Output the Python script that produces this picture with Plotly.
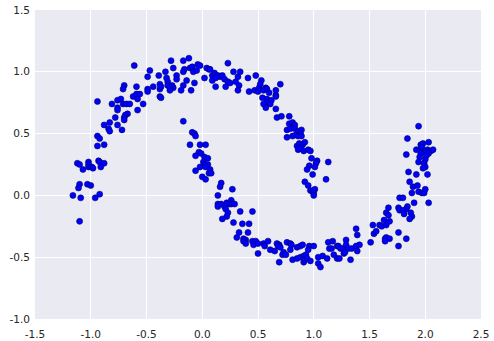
import plotly.graph_objects as go

# Points (x, y)
x_vals = [
    -0.61, -0.47, -0.49, -0.39, -0.70, -0.71, -0.59, -0.44, -0.49, -0.49,
    -0.38, -0.38, -0.62, -0.59, -0.56, -0.58, -0.38, -0.94, -0.76, -0.73,
    -0.81, -0.71, -0.68, -0.65, -0.76, -0.76, -0.53, -0.58, -0.67, -0.69,
    -0.70, -0.70, -0.78, -0.83, -0.88, -0.76, -0.84, -0.83, -0.72, -0.94,
    -0.92,
    -0.28, -0.17, -0.12, -0.26, -0.33, -0.32, -0.23, -0.23, -0.16, -0.17,
    -0.11, -0.09, -0.08, -0.05, -0.04, -0.02, 0.04, 0.06, 0.07, 0.02,
    0.23, -0.14, -0.07, -0.31, -0.31, -0.27, -0.26, -0.29, -0.37, -0.37,
    -0.17, -0.19, -0.29, -0.10, 0.09, 0.11, 0.14, 0.16, 0.18, 0.20,
    0.09, 0.12, 0.12, 0.21, 0.23, 0.25, 0.28, 0.34, 0.32, 0.30,
    0.33, 0.32, 0.41, 0.42, 0.48, 0.47, 0.50, 0.51, -0.17, -0.09,
    -0.07, -0.06,
    0.53, 0.52, 0.57, 0.55, 0.58, 0.60, 0.70, 0.66, 0.66, 0.66,
    0.54, 0.58, 0.58, 0.62, 0.61, 0.55, 0.57, 0.66, 0.67, 0.71,
    0.78, 0.78, 0.81, 0.83, 0.76, 0.79, 0.83, 0.86, 0.89, 0.88,
    0.81, 0.84, 0.86, 0.89, 0.76,
    1.94, 1.84,
    -0.94, -0.88, -1.12, -1.10, -1.07, -1.02, -1.02, -1.02, -0.99, -0.98,
    -0.93, -0.92, -0.88, -0.91, -1.10, -1.11, -1.03, -1.00, -1.16, -1.09,
    -0.92, -0.96, -1.10,
    -0.11, -0.02, 0.03, -0.03, -0.01, -0.06, 0.02, 0.05, 0.01, 0.02,
    -0.02, 0.05, 0.03, 0.07, 0.06, 0.08, -0.06, 0.00, 0.03, 0.17,
    0.16, 0.27, 0.14, 0.14, 0.14, 0.17, 0.22, 0.24, 0.26, 0.26,
    0.29, 0.20, 0.21, 0.23, 0.22, 0.18, 0.34, 0.45, 0.28, 0.36,
    0.42,
    0.85, 0.87, 0.90, 0.92, 0.86, 0.88, 0.91, 0.95, 0.97, 0.98,
    1.03, 1.02, 0.96, 1.01, 0.94, 1.13, 0.99, 1.11, 0.92, 0.95,
    0.97, 0.99, 1.01, 1.00, 1.00,
    1.96, 1.98, 2.03, 1.92, 1.95, 1.97, 1.83, 2.02, 2.05, 2.07,
    2.00, 2.03, 1.96, 1.95, 2.01, 2.00, 1.94, 1.99, 2.00, 1.98,
    1.85, 1.92, 2.02, 1.86, 1.89, 1.93, 1.88, 1.94, 1.97, 1.99,
    2.00, 1.77, 1.80, 1.90, 2.03, 1.84, 1.83, 1.76, 1.77, 1.80,
    1.81, 1.67, 1.65, 1.67, 1.87, 1.88, 1.86, 1.63, 1.68, 1.53,
    1.59,
    0.33, 0.41, 0.31, 0.37, 0.39, 0.37, 0.39, 0.45, 0.48, 0.46,
    0.50, 0.50,
    0.55, 0.56, 0.59, 0.61, 0.65, 0.67, 0.69, 0.68, 0.70, 0.73,
    0.72, 0.75, 0.76, 0.79, 0.80, 0.79, 0.69, 0.81, 0.85, 0.88,
    0.90, 0.85, 0.88, 0.91, 0.93, 0.91, 0.92, 0.94, 0.96, 0.95,
    1.00, 0.97, 1.04, 1.08, 1.12, 1.04, 1.06, 1.13, 1.17, 1.14,
    1.16, 1.18, 1.21, 1.23, 1.21, 1.22, 1.24, 1.26, 1.27, 1.28,
    1.29, 1.29, 1.31, 1.34, 1.33, 1.38, 1.39, 1.38, 1.39, 1.41,
    1.61, 1.65, 1.54, 1.56, 1.76, 1.64, 1.65, 1.68, 1.64, 1.83,
    1.76, 1.51,
]

y_vals = [
    1.05, 1.01, 0.96, 0.97, 0.89, 0.86, 0.88, 0.88, 0.86, 0.84,
    0.90, 0.86, 0.80, 0.82, 0.82, 0.78, 0.80, 0.76, 0.77, 0.78,
    0.74, 0.74, 0.74, 0.74, 0.71, 0.69, 0.74, 0.69, 0.66, 0.65,
    0.63, 0.61, 0.63, 0.59, 0.57, 0.57, 0.54, 0.52, 0.53, 0.48,
    0.46,
    1.09, 1.09, 1.11, 1.03, 1.00, 0.95, 0.97, 0.94, 1.02, 1.00,
    1.03, 1.04, 1.00, 1.01, 1.06, 1.05, 1.03, 1.02, 1.02, 0.95,
    1.07, 0.93, 0.91, 0.92, 0.89, 0.89, 0.87, 0.87, 0.88, 0.79,
    0.89, 0.85, 0.85, 0.85, 0.97, 0.99, 0.97, 0.96, 0.97, 0.94,
    0.93, 0.95, 0.88, 0.88, 0.92, 0.91, 1.00, 1.00, 0.96, 0.92,
    0.89, 0.85, 0.95, 0.84, 0.97, 0.85, 0.84, 0.87, 0.60, 0.51,
    0.50, 0.48,
    0.93, 0.90, 0.87, 0.85, 0.86, 0.83, 0.90, 0.85, 0.81, 0.80,
    0.79, 0.78, 0.75, 0.77, 0.74, 0.74, 0.71, 0.70, 0.63, 0.64,
    0.64, 0.58, 0.59, 0.57, 0.53, 0.54, 0.54, 0.52, 0.53, 0.50,
    0.48, 0.49, 0.48, 0.48, 0.47,
    0.56, 0.46,
    0.40, 0.41, 0.26, 0.25, 0.21, 0.27, 0.25, 0.23, 0.23, 0.22,
    0.28, 0.27, 0.26, 0.23, 0.09, 0.06, 0.09, 0.08, 0.00, -0.02,
    0.01, -0.02, -0.21,
    0.41, 0.41, 0.41, 0.35, 0.34, 0.32, 0.31, 0.30, 0.27, 0.25,
    0.23, 0.25, 0.23, 0.21, 0.18, 0.18, 0.20, 0.15, 0.13, 0.10,
    0.07, 0.05, 0.00, -0.07, -0.09, -0.07, -0.06, -0.07, -0.04, -0.07,
    -0.07, -0.09, -0.11, -0.14, -0.17, -0.19, -0.13, -0.13, -0.22, -0.23,
    -0.23,
    0.40, 0.42, 0.41, 0.43, 0.37, 0.38, 0.36, 0.37, 0.36, 0.30,
    0.28, 0.26, 0.24, 0.23, 0.21, 0.27, 0.17, 0.13, 0.11, 0.08,
    0.04, 0.03, 0.05, 0.02, 0.00,
    0.41, 0.42, 0.43, 0.37, 0.37, 0.39, 0.33, 0.37, 0.36, 0.37,
    0.35, 0.34, 0.34, 0.31, 0.32, 0.29, 0.27, 0.26, 0.23, 0.22,
    0.19, 0.17, 0.17, 0.11, 0.07, 0.08, 0.02, 0.03, 0.02, 0.02,
    0.05, -0.02, -0.02, -0.06, -0.06, -0.09, -0.11, -0.10, -0.12, -0.12,
    -0.15, -0.10, -0.14, -0.16, -0.14, -0.17, -0.19, -0.20, -0.21, -0.24,
    -0.24,
    -0.30, -0.30, -0.34, -0.35, -0.36, -0.37, -0.39, -0.37, -0.37, -0.40,
    -0.39, -0.47,
    -0.39, -0.41, -0.37, -0.44, -0.45, -0.39, -0.40, -0.41, -0.42, -0.46,
    -0.48, -0.48, -0.38, -0.39, -0.40, -0.44, -0.54, -0.52, -0.42, -0.41,
    -0.40, -0.51, -0.50, -0.49, -0.48, -0.54, -0.52, -0.51, -0.41, -0.44,
    -0.41, -0.53, -0.50, -0.49, -0.51, -0.55, -0.58, -0.38, -0.37, -0.43,
    -0.43, -0.48, -0.51, -0.51, -0.41, -0.41, -0.43, -0.43, -0.47, -0.46,
    -0.36, -0.40, -0.43, -0.43, -0.52, -0.27, -0.32, -0.41, -0.45, -0.40,
    -0.25, -0.24, -0.31, -0.29, -0.30, -0.35, -0.34, -0.35, -0.37, -0.35,
    -0.41, -0.38,
]

x_ticks = [-1.5, -1.0, -0.5, 0.0, 0.5, 1.0, 1.5, 2.0, 2.5]
y_ticks = [-1.0, -0.5, 0.0, 0.5, 1.0, 1.5]

fig = go.Figure(
    go.Scatter(
        x=x_vals,
        y=y_vals,
        mode="markers",
        marker=dict(size=6, color="#0000FF", line=dict(color="#00006A", width=0.6)),
        hoverinfo="skip",
    )
)

axis_common = dict(
    showgrid=True,
    gridcolor="white",
    gridwidth=1.2,
    zeroline=False,
    showline=False,
    ticks="",
    automargin=False,
    tickfont=dict(family="DejaVu Sans, Liberation Sans, sans-serif", size=10.5, color="#262626"),
)

fig.update_xaxes(
    range=[-1.5, 2.5],
    tickvals=x_ticks,
    ticktext=[f"{v:.1f}" for v in x_ticks],
    ticklabelstandoff=7,
    **axis_common,
)
fig.update_yaxes(
    range=[-1.0, 1.5],
    tickvals=y_ticks,
    ticktext=[f"{v:.1f}" for v in y_ticks],
    ticklabelstandoff=4,
    **axis_common,
)

fig.update_layout(
    width=494,
    height=341,
    margin=dict(l=35, r=13, t=10, b=22),
    paper_bgcolor="white",
    plot_bgcolor="#EAEAF2",
    showlegend=False,
)

fig.write_html("out.html")
